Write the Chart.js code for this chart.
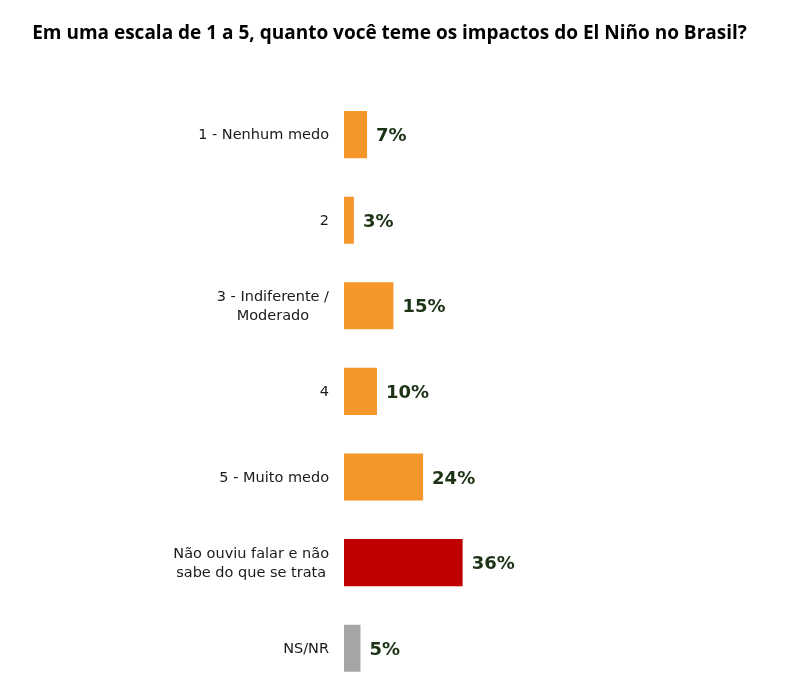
<!DOCTYPE html>
<html>
<head>
<meta charset="utf-8">
<script src="https://cdn.jsdelivr.net/npm/chart.js@4/dist/chart.umd.min.js"></script>
<style>
  html, body { margin: 0; padding: 0; background: #fff; overflow: hidden; }
  canvas { display: block; }
</style>
</head>
<body>
<canvas id="chartMedo" width="806" height="691"></canvas>
<script>
const categorias = [
  '1 - Nenhum medo',
  '2',
  ['3 - Indiferente /', 'Moderado'],
  '4',
  '5 - Muito medo',
  ['Não ouviu falar e não', 'sabe do que se trata'],
  'NS/NR'
];
const percentuais = [7, 3, 15, 10, 24, 36, 5];
const cores = ['#F4962A', '#F4962A', '#F4962A', '#F4962A', '#F4962A', '#C00000', '#A6A6A6'];

const fonteEixo = '14.5px "DejaVu Sans", Verdana, sans-serif';

// rotulos de valor ao lado das barras
const rotulos = {
  id: 'rotulos',
  afterDatasetsDraw(chart) {
    const ctx = chart.ctx;
    const meta = chart.getDatasetMeta(0);
    ctx.save();
    ctx.font = 'bold 18px "DejaVu Sans", Verdana, sans-serif';
    ctx.fillStyle = '#1d3315';
    ctx.textAlign = 'left';
    ctx.textBaseline = 'middle';
    meta.data.forEach((bar, i) => {
      ctx.fillText(percentuais[i] + '%', bar.x + 9, bar.y + 2);
    });
    ctx.restore();
  }
};

// categorias: bloco alinhado a direita, linhas centradas entre si
const categoriasEixo = {
  id: 'categoriasEixo',
  afterDraw(chart) {
    const ctx = chart.ctx;
    const y = chart.scales.y;
    const direita = y.right - 15;
    const altLinha = 19;
    ctx.save();
    ctx.font = fonteEixo;
    ctx.fillStyle = '#1a1a1a';
    ctx.textAlign = 'center';
    ctx.textBaseline = 'middle';
    categorias.forEach((cat, i) => {
      const linhas = Array.isArray(cat) ? cat : [cat];
      const larg = Math.max(...linhas.map(l => ctx.measureText(l).width));
      const cx = direita - larg / 2;
      const cy = y.getPixelForTick(i) + 1;
      linhas.forEach((l, j) => {
        ctx.fillText(l, cx, cy + (j - (linhas.length - 1) / 2) * altLinha);
      });
    });
    ctx.restore();
  }
};

const ctx = document.getElementById('chartMedo');

new Chart(ctx, {
  type: 'bar',
  data: {
    labels: categorias,
    datasets: [{
      data: percentuais,
      backgroundColor: cores,
      borderWidth: 0,
      barPercentage: 0.55,
      categoryPercentage: 1
    }]
  },
  plugins: [rotulos, categoriasEixo],
  options: {
    indexAxis: 'y',
    responsive: false,
    animation: false,
    layout: { padding: { left: 0, right: 27, top: 0, bottom: 0 } },
    plugins: {
      legend: { display: false },
      tooltip: { enabled: false },
      title: {
        display: true,
        text: 'Em uma escala de 1 a 5, quanto você teme os impactos do El Niño no Brasil?',
        color: '#000',
        font: { family: '"Open Sans", sans-serif', size: 19, weight: 'bold' },
        padding: { top: 22, bottom: 47 }
      }
    },
    scales: {
      x: {
        display: false,
        min: 0,
        max: 132
      },
      y: {
        afterFit(scale) {
          scale.width = 344;
          scale.paddingTop = 0;
          scale.paddingBottom = 0;
        },
        grid: { display: false, drawTicks: false },
        border: { display: false },
        ticks: { display: false }
      }
    }
  }
});
</script>
</body>
</html>
